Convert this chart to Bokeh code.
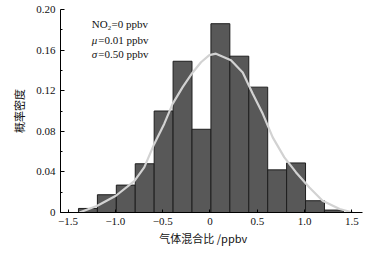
from bokeh.plotting import figure
from bokeh.models import Range1d, FixedTicker, ColumnDataSource
from bokeh.core.properties import value
from bokeh.embed import file_html
from bokeh.resources import INLINE

# histogram bins (left edges, width 0.2) and probability density
bin_left = [-1.59, -1.39, -1.19, -0.99, -0.79, -0.59, -0.39, -0.19,
            0.01, 0.21, 0.41, 0.61, 0.81, 1.01, 1.21]
bin_width = 0.2
density = [0.0, 0.004, 0.0175, 0.027, 0.048, 0.100, 0.149, 0.082,
           0.186, 0.154, 0.1235, 0.042, 0.0488, 0.0116, 0.0024]

# fitted normal curve
curve_x = [-1.38, -1.19, -0.995, -0.80, -0.695, -0.589, -0.484, -0.395, -0.289,
           -0.183, -0.095, -0.007, 0.063, 0.222, 0.346, 0.452, 0.558, 0.663,
           0.786, 0.910, 1.051, 1.19, 1.37, 1.51]
curve_y = [0.0, 0.0066, 0.0165, 0.031, 0.0445, 0.0676, 0.0873, 0.107, 0.1235,
           0.138, 0.148, 0.155, 0.1565, 0.150, 0.138, 0.117, 0.0972, 0.074,
           0.0543, 0.0395, 0.0247, 0.0116, 0.0034, 0.0]

x_ticks = [-1.5, -1.0, -0.5, 0, 0.5, 1.0, 1.5]
x_tick_labels = {-1.5: "\u22121.5", -1.0: "\u22121.0", -0.5: "\u22120.5", 0: "0",
                 0.5: "0.5", 1.0: "1.0", 1.5: "1.5"}
y_ticks = [0, 0.04, 0.08, 0.12, 0.16, 0.20]
y_tick_labels = {0: "0", 0.04: "0.04", 0.08: "0.08", 0.12: "0.12",
                 0.16: "0.16", 0.2: "0.20"}

SERIF = "Liberation Serif"
CJK = "Noto Sans CJK SC"

p = figure(width=374, height=253, output_backend="svg", toolbar_location=None,
           x_range=Range1d(-1.58, 1.612), y_range=Range1d(0, 0.20),
           min_border_left=60, min_border_right=12, min_border_top=9,
           min_border_bottom=41)
p.outline_line_color = None
p.xgrid.visible = False
p.ygrid.visible = False
p.background_fill_color = "white"
p.border_fill_color = "white"

src = ColumnDataSource(dict(
    left=bin_left,
    right=[b + bin_width for b in bin_left],
    top=density,
    bottom=[0] * len(density),
))
p.quad(left="left", right="right", top="top", bottom="bottom", source=src,
       fill_color="#585858", line_color="#1e1e1e", line_width=1)

p.line(curve_x, curve_y, line_color="#d2d2d2", line_width=2.2)

# annotation text
p.text(x=[-1.25], y=[0.186], text=["NO\u2082=0 ppbv"], text_font=value(SERIF),
       text_font_size="11px", text_baseline="middle", text_color="#111111")
p.text(x=[-1.25], y=[0.170], text=["\u03bc"], text_font=value(SERIF),
       text_font_style="italic", text_font_size="11px", text_baseline="middle",
       text_color="#111111")
p.text(x=[-1.25], y=[0.170], text=["=0.01 ppbv"], text_font=value(SERIF),
       text_font_size="11px", text_baseline="middle", x_offset=6.5,
       text_color="#111111")
p.text(x=[-1.25], y=[0.1565], text=["\u03c3"], text_font=value(SERIF),
       text_font_style="italic", text_font_size="11px", text_baseline="middle",
       text_color="#111111")
p.text(x=[-1.25], y=[0.1565], text=["=0.50 ppbv"], text_font=value(SERIF),
       text_font_size="11px", text_baseline="middle", x_offset=6.5,
       text_color="#111111")

# axes
xa = p.xaxis[0]
xa.ticker = FixedTicker(ticks=x_ticks, minor_ticks=[])
xa.major_label_overrides = x_tick_labels
xa.major_tick_in = 3
xa.major_tick_out = 0
xa.minor_tick_in = 0
xa.minor_tick_out = 0
xa.major_label_standoff = 5
xa.major_label_text_font = SERIF
xa.major_label_text_font_size = "11px"
xa.major_label_text_color = "#111111"
# trailing wide spaces shift the visible title a little to the left, as in the original
xa.axis_label = "\u6c14\u4f53\u6df7\u5408\u6bd4 /ppbv\u3000\u2002"
xa.axis_label_text_font = CJK
xa.axis_label_text_font_style = "normal"
xa.axis_label_text_font_size = "11px"
xa.axis_label_standoff = 2
xa.axis_label_text_color = "#111111"
xa.axis_line_color = "black"
xa.major_tick_line_color = "black"

ya = p.yaxis[0]
ya.ticker = FixedTicker(ticks=y_ticks,
                        minor_ticks=[0.02, 0.06, 0.10, 0.14, 0.18])
ya.major_label_overrides = y_tick_labels
ya.major_tick_in = 4
ya.major_tick_out = 0
ya.minor_tick_in = 2
ya.minor_tick_out = 0
ya.major_label_standoff = 5
ya.major_label_text_font = SERIF
ya.major_label_text_font_size = "11px"
ya.major_label_text_color = "#111111"
ya.axis_label = "\u6982\u7387\u5bc6\u5ea6"
ya.axis_label_text_font = CJK
ya.axis_label_text_font_style = "normal"
ya.axis_label_text_font_size = "11px"
ya.axis_label_standoff = 6
ya.axis_label_text_color = "#111111"
ya.axis_line_color = "black"
ya.major_tick_line_color = "black"
ya.minor_tick_line_color = "black"

open("out.html", "w").write(file_html(p, INLINE))
